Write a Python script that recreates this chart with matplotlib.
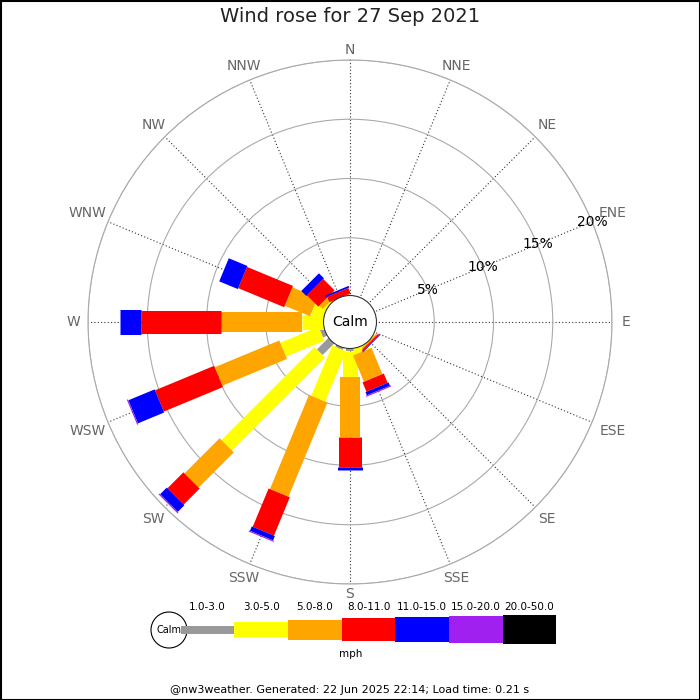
import numpy as np
import matplotlib
matplotlib.use("Agg")
import matplotlib.pyplot as plt
from matplotlib.patches import Circle, Rectangle

# ---------------- data ----------------
directions = ['N', 'NNE', 'NE', 'ENE', 'E', 'ESE', 'SE', 'SSE',
              'S', 'SSW', 'SW', 'WSW', 'W', 'WNW', 'NW', 'NNW']
speed_bins = ['1.0-3.0', '3.0-5.0', '5.0-8.0', '8.0-11.0',
              '11.0-15.0', '15.0-20.0', '20.0-50.0']
bin_colors = ['#999999', '#ffff00', '#ffa500', '#ff0000',
              '#0000ff', '#a020f0', '#000000']

#            N  NNE NE ENE E ESE  SE    SSE   S    SSW  SW    WSW  W    WNW  NW    NNW
freq_1_3   = [0, 0, 0, 0, 0, 0, 0.00, 0.10, 0.30, 0.30, 1.50, 0.50, 0.00, 0.00, 0.00, 0.00]
freq_3_5   = [0, 0, 0, 0, 0, 0, 0.15, 0.50, 2.20, 4.60, 11.1, 3.50, 1.90, 1.20, 0.30, 0.00]
freq_5_8   = [0, 0, 0, 0, 0, 0, 0.12, 2.40, 5.10, 8.60, 4.20, 5.90, 6.90, 2.30, 0.40, 0.10]
freq_8_11  = [0, 0, 0, 0, 0, 0, 0.15, 0.85, 2.50, 3.50, 1.90, 5.40, 6.70, 4.20, 1.35, 0.50]
freq_11_15 = [0, 0, 0, 0, 0, 0, 0.05, 0.30, 0.30, 0.40, 0.80, 2.40, 1.80, 1.70, 0.60, 0.15]
freq_15_20 = [0, 0, 0, 0, 0, 0, 0.00, 0.10, 0.00, 0.10, 0.10, 0.10, 0.00, 0.00, 0.00, 0.00]
freq_20_50 = [0, 0, 0, 0, 0, 0, 0.00, 0.00, 0.00, 0.00, 0.00, 0.00, 0.00, 0.00, 0.00, 0.00]

r_ticks = [5, 10, 15, 20]
r_tick_labels = ['5%', '10%', '15%', '20%']
title = 'Wind rose for 27 Sep 2021'
footer = '@nw3weather. Generated: 22 Jun 2025 22:14; Load time: 0.21 s'

# ---------------- style ----------------
DPI = 100
bar_px = [8, 15, 20, 23, 25, 27, 29]          # bar thickness in pixels per class
series = [freq_1_3, freq_3_5, freq_5_8, freq_8_11, freq_11_15, freq_15_20, freq_20_50]

fig = plt.figure(figsize=(7, 7), dpi=DPI)
fig.patch.set_facecolor('white')

R_PX = 262.0
cx, cy = 350.0, 322.0
w = 2 * R_PX / 700.0
ax = fig.add_axes([cx / 700 - w / 2, (700 - cy) / 700 - w / 2, w, w], projection='polar')
ax.set_theta_zero_location('N')
ax.set_theta_direction(-1)
rmax = 20.0
origin_px = 25.0
ax.set_ylim(0, rmax)
ax.set_rorigin(-rmax * origin_px / (R_PX - origin_px))

angles = np.deg2rad(np.arange(16) * 22.5)

# bars as constant-width radial strokes
for d in range(16):
    base = 0.0
    for k, s in enumerate(series):
        v = s[d]
        if v <= 0:
            continue
        ax.plot([angles[d], angles[d]], [base, base + v], color=bin_colors[k],
                lw=bar_px[k] * 72.0 / DPI, solid_capstyle='butt', zorder=3 + k * 0.01)
        base += v

ax.set_xticks(angles)
ax.set_xticklabels([])
ax.set_yticks(r_ticks)
ax.set_yticklabels([])
ax.xaxis.grid(True, linestyle=(0, (1, 2)), color='#333333', lw=0.8)
ax.yaxis.grid(True, linestyle='-', color='#aaaaaa', lw=0.8)
ax.spines['polar'].set_color('#aaaaaa')
ax.spines['polar'].set_linewidth(0.8)
ax.set_axisbelow(True)

# compass labels placed just outside the outer ring
for th, lab in zip(angles, directions):
    dist = 10 + 0.6 * len(lab) * 7.3 * abs(np.sin(th))
    ax.annotate(lab, xy=(th, rmax), xytext=(dist * np.sin(th), dist * np.cos(th)),
                textcoords='offset pixels', ha='center', va='center',
                fontsize=10, color='#666666', annotation_clip=False)

lab_theta = np.deg2rad(67.5)
for r, t in zip(r_ticks, r_tick_labels):
    ax.text(lab_theta, r, t, ha='center', va='center', fontsize=10, color='black', zorder=6)

# calm circle
calm_r = 26.5 / (2 * R_PX)
ax.add_patch(Circle((0.5, 0.5), calm_r, transform=ax.transAxes, facecolor='white',
                    edgecolor='#333333', lw=0.8, zorder=10, clip_on=False))
ax.text(0.5, 0.5, 'Calm', transform=ax.transAxes, ha='center', va='center',
        fontsize=10, zorder=11)

# ---------------- legend (pixel coordinates overlay) ----------------
lax = fig.add_axes([0, 0, 1, 1], zorder=5)
lax.set_xlim(0, 700)
lax.set_ylim(700, 0)
lax.axis('off')
lax.add_patch(Circle((169, 630), 18, facecolor='white', edgecolor='black', lw=0.8))
lax.text(169, 630, 'Calm', ha='center', va='center', fontsize=7)
x0 = 180.5
seg_w = 53.7
ymid = 629.5
for k, (lab, col) in enumerate(zip(speed_bins, bin_colors)):
    h = bar_px[k]
    lax.add_patch(Rectangle((x0 + k * seg_w, ymid - h / 2), seg_w, h,
                            facecolor=col, edgecolor='none'))
    lax.text(x0 + (k + 0.5) * seg_w, 607, lab, ha='center', va='center', fontsize=7.5)
lax.text(351, 654, 'mph', ha='center', va='center', fontsize=7.5)

# figure border
lax.add_patch(Rectangle((0.5, 0.5), 699, 699, facecolor='none', edgecolor='black', lw=1.5))

fig.text(0.5, 1 - 17 / 700, title, ha='center', va='center', fontsize=14, color='#222222')
fig.text(0.5, 1 - 690 / 700, footer, ha='center', va='center', fontsize=8)

fig.savefig('out.png', dpi=DPI)
